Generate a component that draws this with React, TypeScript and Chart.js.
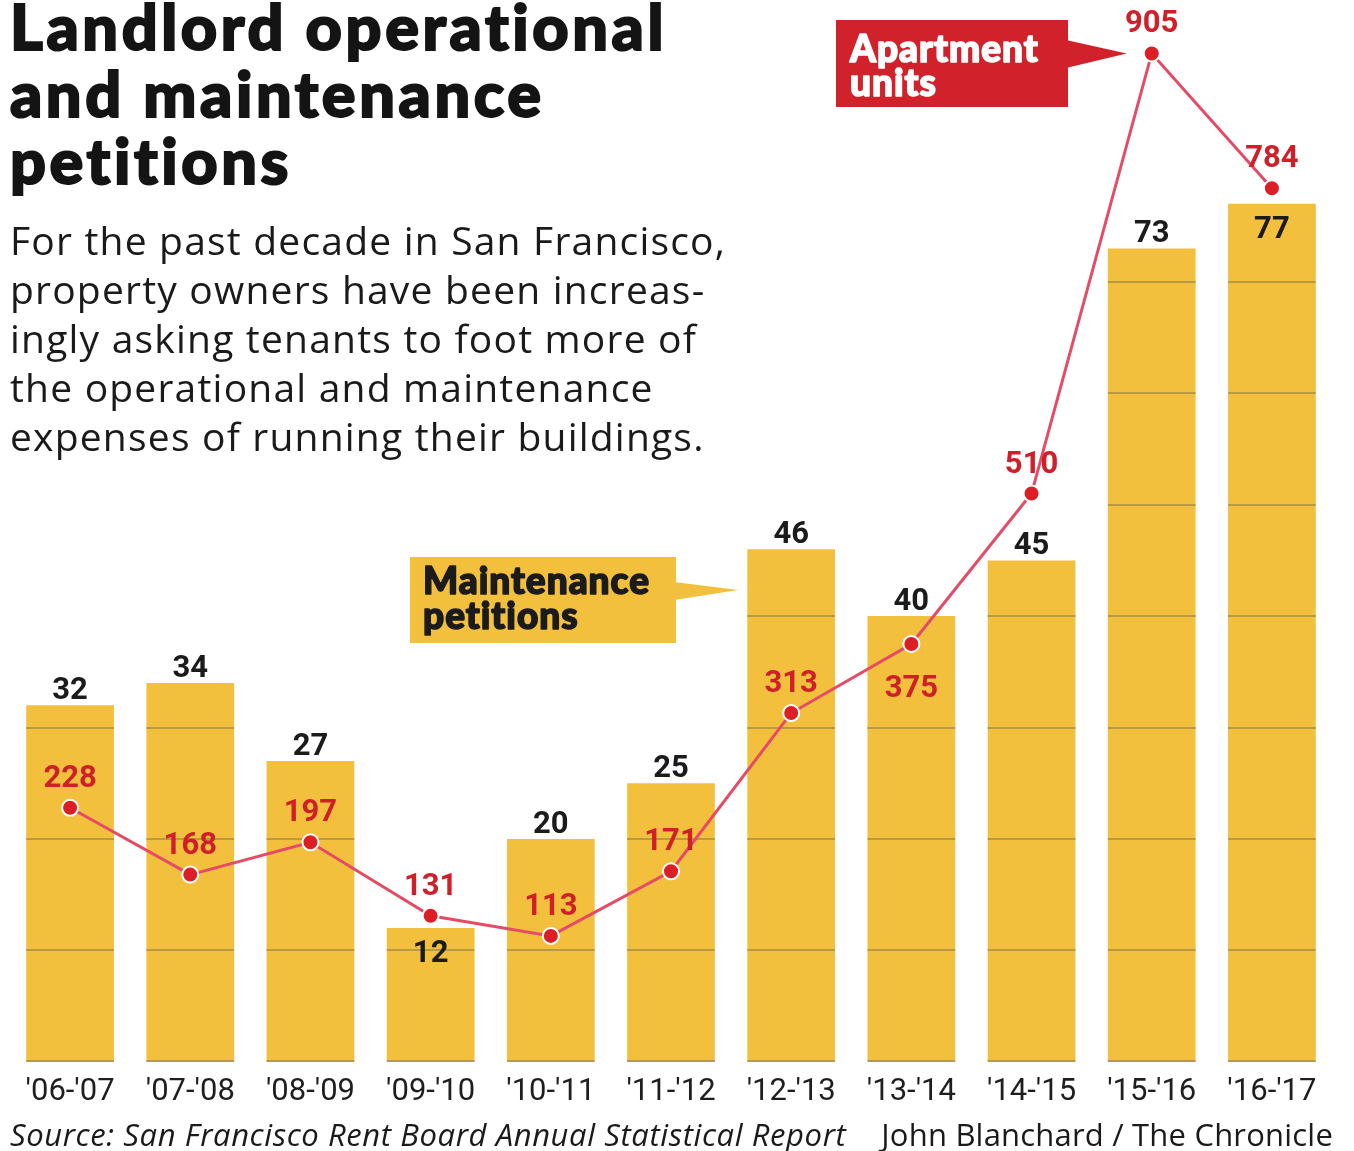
import React, { useEffect, useRef } from "react";
import { Chart, registerables } from "chart.js";

Chart.register(...registerables);

// ---------- data ----------
const categories = ["'06-'07", "'07-'08", "'08-'09", "'09-'10", "'10-'11", "'11-'12", "'12-'13", "'13-'14", "'14-'15", "'15-'16", "'16-'17"];
const petitions = [32, 34, 27, 12, 20, 25, 46, 40, 45, 73, 77];
const apartmentUnits = [228, 168, 197, 131, 113, 171, 313, 375, 510, 905, 784];
const petitionGridValues = [0, 10, 20, 30, 40, 50, 60, 70, 80, 90];
// label placement helpers (which labels are drawn on the other side)
const unitLabelBelow = [false, false, false, false, false, false, false, true, false, false, false];
const petitionLabelInside = [false, false, false, true, false, false, false, false, false, false, true];

const titleLines = ["Landlord operational", "and maintenance", "petitions"];
const subtitleLines = [
  "For the past decade in San Francisco,",
  "property owners have been increas-",
  "ingly asking tenants to foot more of",
  "the operational and maintenance",
  "expenses of running their buildings.",
];
const sourceText = "Source: San Francisco Rent Board Annual Statistical Report";
const creditText = "John Blanchard / The Chronicle";
const unitsLabel = ["Apartment", "units"];
const petitionsLabel = ["Maintenance", "petitions"];

// ---------- styles ----------
const BAR_COLOR = "#F3C03E";
const BAR_GRID = "#B89A42";
const LINE_COLOR = "#E64B66";
const POINT_COLOR = "#DC1F26";
const RED_TEXT = "#CF1F28";
const BLACK_TEXT = "#1b1b1b";
const RED_BOX = "#D1222B";
const LABEL_FONT = 'bold 31px Roboto, "DejaVu Sans", sans-serif';
const HEAVY_FONT = '900 37px Lato, "DejaVu Sans", sans-serif';

const BAR_INDEX = 1;
const LINE_INDEX = 0;

const barGridPlugin = {
  id: "barGrid",
  afterDatasetDraw(chart: any, args: any) {
    if (args.index !== BAR_INDEX) return;
    const ctx = chart.ctx;
    const y = chart.scales.y;
    ctx.save();
    ctx.strokeStyle = BAR_GRID;
    ctx.lineWidth = 2;
    args.meta.data.forEach((bar: any, i: number) => {
      const { x, width } = bar.getProps(["x", "width"], true);
      const left = x - width / 2;
      const right = x + width / 2;
      petitionGridValues.forEach((v) => {
        if (v >= petitions[i]) return;
        let py = Math.round(y.getPixelForValue(v));
        if (v === 0) py -= 1;
        ctx.beginPath();
        ctx.moveTo(left, py);
        ctx.lineTo(right, py);
        ctx.stroke();
      });
    });
    ctx.restore();
  },
};

const labelsPlugin = {
  id: "valueLabels",
  afterDatasetsDraw(chart: any) {
    const ctx = chart.ctx;
    ctx.save();
    ctx.font = LABEL_FONT;
    ctx.textAlign = "center";
    ctx.textBaseline = "alphabetic";
    const barMeta = chart.getDatasetMeta(BAR_INDEX);
    barMeta.data.forEach((bar: any, i: number) => {
      const { x, y } = bar.getProps(["x", "y"], true);
      ctx.fillStyle = BLACK_TEXT;
      const ty = petitionLabelInside[i] ? y + 34 : y - 6;
      ctx.fillText(String(petitions[i]), x, ty);
    });
    const lineMeta = chart.getDatasetMeta(LINE_INDEX);
    lineMeta.data.forEach((pt: any, i: number) => {
      const { x, y } = pt.getProps(["x", "y"], true);
      ctx.fillStyle = RED_TEXT;
      const ty = unitLabelBelow[i] ? y + 53 : y - 21;
      ctx.fillText(String(apartmentUnits[i]), x, ty);
    });
    ctx.restore();
  },
};

function heavyText(ctx: CanvasRenderingContext2D, text: string, x: number, y: number, color: string) {
  ctx.fillStyle = color;
  ctx.strokeStyle = color;
  ctx.lineWidth = 1.6;
  ctx.lineJoin = "round";
  ctx.fillText(text, x, y);
  ctx.strokeText(text, x, y);
}

const calloutPlugin = {
  id: "callouts",
  afterDraw(chart: any) {
    const ctx = chart.ctx;
    ctx.save();
    // Apartment units callout
    const peak = chart.getDatasetMeta(LINE_INDEX).data[9].getProps(["x", "y"], true);
    ctx.fillStyle = RED_BOX;
    ctx.fillRect(836, 20, 232, 87);
    ctx.beginPath();
    ctx.moveTo(1066, 40);
    ctx.lineTo(peak.x - 25, peak.y);
    ctx.lineTo(1066, 68);
    ctx.closePath();
    ctx.fill();
    ctx.font = HEAVY_FONT;
    (ctx as any).letterSpacing = "1px";
    ctx.textAlign = "left";
    ctx.textBaseline = "alphabetic";
    heavyText(ctx, unitsLabel[0], 850, 62, "#ffffff");
    heavyText(ctx, unitsLabel[1], 850, 96, "#ffffff");

    // Maintenance petitions callout
    const bar = chart.getDatasetMeta(BAR_INDEX).data[6].getProps(["x", "width"], true);
    ctx.fillStyle = BAR_COLOR;
    ctx.fillRect(410, 557, 266, 86);
    ctx.beginPath();
    ctx.moveTo(674, 582);
    ctx.lineTo(bar.x - bar.width / 2 - 9, 590);
    ctx.lineTo(674, 600);
    ctx.closePath();
    ctx.fill();
    heavyText(ctx, petitionsLabel[0], 423, 594, BLACK_TEXT);
    heavyText(ctx, petitionsLabel[1], 423, 629, BLACK_TEXT);
    ctx.restore();
  },
};

export default function App() {
  const canvasRef = useRef<HTMLCanvasElement | null>(null);

  useEffect(() => {
    if (!canvasRef.current) return;
    const chart = new Chart(canvasRef.current, {
      type: "bar",
      data: {
        labels: categories,
        datasets: [
          {
            type: "line",
            label: "Apartment units",
            data: apartmentUnits,
            yAxisID: "y2",
            order: 0,
            borderColor: LINE_COLOR,
            borderWidth: 3,
            pointRadius: 8,
            pointBackgroundColor: POINT_COLOR,
            pointBorderColor: "#ffffff",
            pointBorderWidth: 2,
            tension: 0,
          } as any,
          {
            type: "bar",
            label: "Maintenance petitions",
            data: petitions,
            yAxisID: "y",
            order: 1,
            backgroundColor: BAR_COLOR,
            barPercentage: 0.73,
            categoryPercentage: 1,
            borderWidth: 0,
          },
        ],
      },
      options: {
        responsive: false,
        animation: false,
        devicePixelRatio: 1,
        layout: { padding: { top: 5, left: 9, right: 22, bottom: 28 } },
        plugins: {
          legend: { display: false },
          title: { display: false },
          tooltip: { enabled: false },
        },
        scales: {
          x: {
            grid: { display: false, drawTicks: false },
            border: { display: false },
            ticks: {
              color: "#1e1e1e",
              padding: 12,
              maxRotation: 0,
              autoSkip: false,
              font: { family: 'Roboto, "DejaVu Sans", sans-serif', size: 31 },
            },
          },
          y: { display: false, min: 0, max: 94.4 },
          y2: { display: false, min: 0, max: 944 },
        },
      },
      plugins: [barGridPlugin, labelsPlugin, calloutPlugin],
    });
    return () => chart.destroy();
  }, []);

  return (
    <div style={{ position: "absolute", left: 0, top: 0, width: 1354, height: 1151, background: "#ffffff", overflow: "hidden" }}>
      <canvas ref={canvasRef} width={1354} height={1151} style={{ position: "absolute", left: 0, top: 0, width: 1354, height: 1151 }} />
      <div
        style={{
          position: "absolute",
          left: 10,
          top: -8,
          fontFamily: 'Lato, "DejaVu Sans", sans-serif',
          fontWeight: 900,
          fontSize: 63,
          lineHeight: "67px",
          letterSpacing: "3.6px",
          color: "#141414",
          WebkitTextStroke: "2px #141414",
          whiteSpace: "nowrap",
        }}
      >
        {titleLines.map((l) => (
          <div key={l}>{l}</div>
        ))}
      </div>
      <div
        style={{
          position: "absolute",
          left: 10,
          top: 215,
          fontFamily: '"Open Sans", "DejaVu Sans", sans-serif',
          fontSize: 39,
          lineHeight: "49px",
          letterSpacing: "1.2px",
          color: "#1a1a1a",
          whiteSpace: "nowrap",
        }}
      >
        {subtitleLines.map((l) => (
          <div key={l}>{l}</div>
        ))}
      </div>
      <div
        style={{
          position: "absolute",
          left: 10,
          top: 1113,
          fontFamily: '"Open Sans", "DejaVu Sans", sans-serif',
          fontStyle: "italic",
          fontSize: 31,
          letterSpacing: "0.6px",
          color: "#1a1a1a",
          whiteSpace: "nowrap",
        }}
      >
        {sourceText}
      </div>
      <div
        style={{
          position: "absolute",
          right: 21,
          top: 1113,
          fontFamily: '"Open Sans", "DejaVu Sans", sans-serif',
          fontSize: 31,
          letterSpacing: "0.2px",
          color: "#1a1a1a",
          whiteSpace: "nowrap",
        }}
      >
        {creditText}
      </div>
    </div>
  );
}
